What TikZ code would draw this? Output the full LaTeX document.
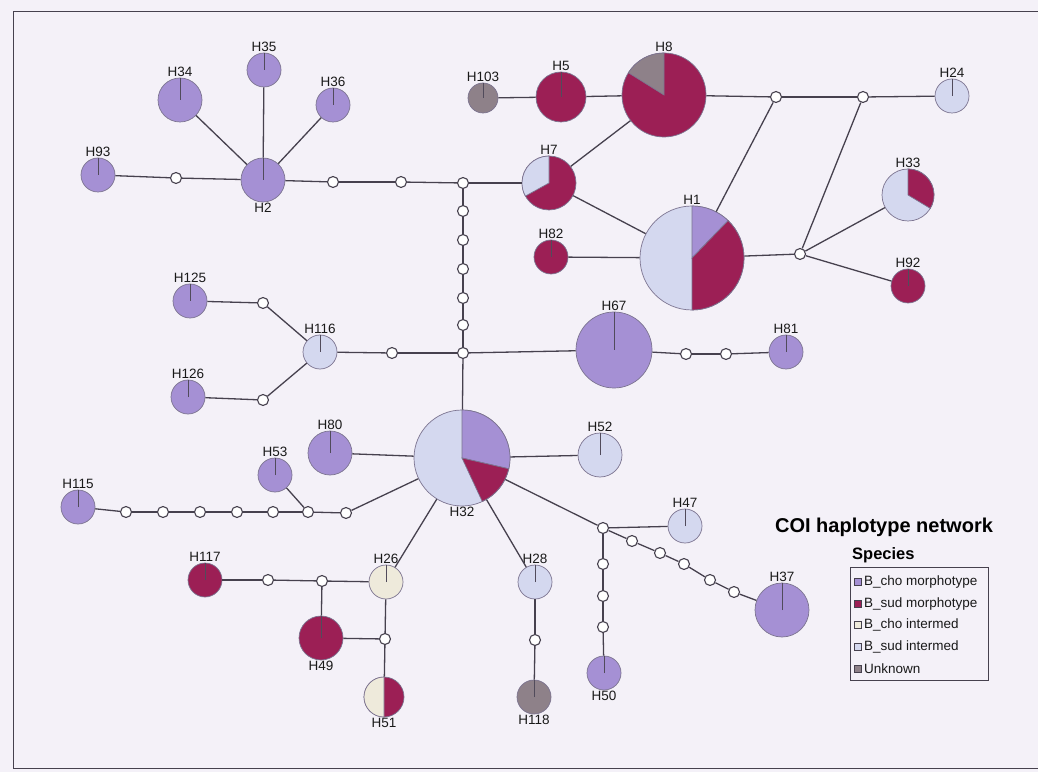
\documentclass[tikz,border=0pt]{standalone}
\usepackage{fontspec}
\setmainfont{Liberation Sans}
\usepackage{xcolor}
\usepackage{tikz}
\usetikzlibrary{arrows.meta,
positioning,
calc,
backgrounds}

\definecolor{cho}{RGB}{165,144,212}
\definecolor{sud}{RGB}{156,31,85}
\definecolor{choint}{RGB}{238,234,219}
\definecolor{sudint}{RGB}{212,216,239}
\definecolor{unk}{RGB}{142,129,137}
\definecolor{rim}{RGB}{124,116,144}
\definecolor{linkcol}{RGB}{70,65,78}
\definecolor{paper}{RGB}{244,241,248}

\begin{document}
\begin{tikzpicture}[
x=1pt, y=1pt,
hap/.style={
circle,
draw=rim,
line width=0.7pt,
inner sep=0pt
},
mv/.style={
circle,
draw=linkcol,
fill=white,
line width=1.1pt,
minimum size=11pt,
inner sep=0pt
},
link/.style={draw=linkcol, line width=1.3pt},
tick/.style={draw=linkcol!80!rim, line width=0.9pt},
lbl/.style={font=\fontsize{13.5}{15}\selectfont, inner sep=1pt, text=black!90}
]

\useasboundingbox[fill=paper] (0,0) rectangle (1038,772);
\draw[linkcol, line width=1pt] (1038,760) -- (13,760) -- (13,4) -- (1038,4);

% haplotypes
\foreach \n/\x/\y/\r/\c/\p in {
H2/263/592/22/cho/below, H93/98/597/17/cho/above, H34/180/672/22/cho/above,
H35/264/702/17/cho/above, H36/333/667/17/cho/above, H103/483/674/15/unk/above,
H5/561/675/25/sud/above, H8/664/677/42/sud/above, H24/952/676/17/sudint/above,
H7/549/589/27/sud/above, H1/692/514/52/sudint/above, H82/551/515/17/sud/above,
H33/908/577/26/sudint/above, H92/908/486/17/sud/above, H67/614/422/38/cho/above,
H81/786/420/17/cho/above, H116/320/420/17/sudint/above, H125/190/471/17/cho/above,
H126/188/375/17/cho/above, H32/462/314/48/sudint/below, H80/330/319/22/cho/above,
H53/275/297/17/cho/above, H115/78/265/17/cho/above, H52/600/317/22/sudint/above,
H47/685/246/17/sudint/above, H37/782/162/27/cho/above, H28/535/190/17/sudint/above,
H118/534/75/17/unk/below, H50/604/99/17/cho/below, H117/205/192/17/sud/above,
H26/386/190/17/choint/above, H49/321/134/22/sud/below, H51/384/75/20/sud/below}
\node[hap, minimum size=\r*2pt, fill=\c, label={[lbl]\p:\n}] (\n) at (\x,\y) {};

% pie slices
\foreach \n/\r/\a/\b/\c in {
H8/42/90/148/unk, H7/27/90/209/sudint, H1/52/46/90/cho, H1/52/270/406/sud,
H33/26/-31/90/sud, H32/48/-13/90/cho, H32/48/-65/-13/sud, H51/20/90/270/choint}
\filldraw[fill=\c, draw=rim, line width=0.7pt] (\n.center) -- ++(\a:\r) arc[start angle=\a, end angle=\b, radius=\r] -- cycle;

\foreach \n in {H2,H93,H34,H35,H36,H103,H5,H24,H82,H92,H67,H81,H116,H125,H126,
H80,H53,H115,H52,H47,H37,H28,H118,H50,H117,H26,H49}
\draw[tick] (\n.center) -- (\n.north);

% median vectors
\foreach \n/\x/\y in {
a1/176/594, a2/333/590, a3/401/590, j1/463/589,
v1/463/561, v2/463/532, v3/463/503, v4/463/474, v5/463/447, j2/463/419,
m1/686/418, m2/726/418, t1/776/675, t2/863/675, r1/800/518,
c125/263/469, c126/263/372, c116/392/419,
b1/126/260, b2/163/260, b3/200/260, b4/237/260, b5/273/260, b6/308/260, b7/346/259,
k1/268/192, k2/322/191, k3/385/133,
j3/603/244, e1/632/231, e2/660/219, e3/684/208, e4/710/192, e5/734/180,
d1/603/208, d2/603/176, d3/603/145, c28/535/132}
\node[mv] (\n) at (\x,\y) {};

% connections
\foreach \s/\t in {
H93/a1, a1/H2, H2/H34, H2/H35, H2/H36, H2/a2, a2/a3, a3/j1, j1/H7,
j1/v1, v1/v2, v2/v3, v3/v4, v4/v5, v5/j2, j2/H32, j2/H67, H67/m1, m1/m2, m2/H81,
j2/c116, c116/H116, H116/c125, c125/H125, H116/c126, c126/H126,
H103/H5, H5/H8, H7/H8, H7/H1, H82/H1, H8/t1, t1/t2, t2/H24, t1/H1,
t2/r1, H1/r1, r1/H33, r1/H92,
H32/H80, H32/H52, H115/b1, b1/b2, b2/b3, b3/b4, b4/b5, b5/b6, b6/b7, b7/H32, H53/b6,
H32/H26, H32/H28, H32/j3, j3/H47, j3/e1, e1/e2, e2/e3, e3/e4, e4/e5, e5/H37,
j3/d1, d1/d2, d2/d3, d3/H50, H28/c28, c28/H118,
H117/k1, k1/k2, k2/H26, k2/H49, H26/k3, k3/H51, H49/k3}
\draw[link] (\s) -- (\t);

% legend
\node[font=\bfseries\fontsize{20}{24}\selectfont, inner sep=0pt] (title) at (884,245) {COI haplotype network};
\node[font=\bfseries\fontsize{16.5}{20}\selectfont, inner sep=0pt, anchor=west] (species) at (852,217) {Species};
\node[draw=linkcol, line width=0.8pt, minimum width=138pt, minimum height=113pt, anchor=north west] (legend) at (850,205) {};
\foreach \c/\t [count=\i from 0] in {cho/B\_cho morphotype, sud/B\_sud morphotype,
choint/B\_cho intermed, sudint/B\_sud intermed, unk/Unknown}
{
\node[draw=linkcol, fill=\c, line width=0.6pt, minimum size=7pt, inner sep=0pt] (key\i) at (858,190-21.6*\i) {};
\node[lbl, anchor=west, xshift=1pt] (txt\i) at (key\i.east) {\t};
}

\end{tikzpicture}
\end{document}
